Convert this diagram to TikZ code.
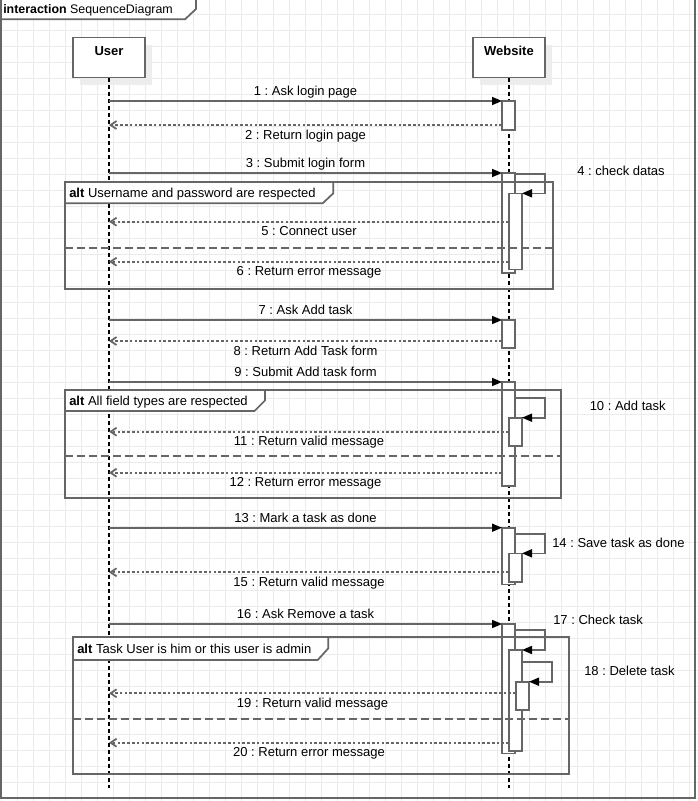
\documentclass[tikz,border=0pt]{standalone}
\usepackage{fontspec}
\setmainfont{Liberation Sans}
\usetikzlibrary{arrows.meta,fit,shadows}
\frenchspacing

\definecolor{edge}{HTML}{666666}
\definecolor{gridc}{HTML}{EBEBEB}
\definecolor{shadowc}{HTML}{EDEDED}

\begin{document}
\begin{tikzpicture}[x=0.75pt,y=-0.75pt,
  font=\fontsize{9.75pt}{11.5pt}\selectfont,
  gridline/.style={draw=gridc, line width=0.7pt},
  frameline/.style={draw=edge, line width=1.3pt},
  lifebox/.style={draw=edge, fill=white, line width=1.2pt, minimum width=54pt,
    minimum height=30pt, inner sep=0pt,
    general shadow={fill=shadowc, shadow xshift=5.25pt, shadow yshift=-5.25pt}},
  boxtitle/.style={anchor=base, inner sep=0pt,
    font=\fontsize{9.75pt}{11.5pt}\selectfont\bfseries},
  lifeline/.style={draw=black, line width=0.9pt, dash pattern=on 3pt off 2.25pt},
  actbar/.style={draw=edge, fill=white, line width=1.2pt, inner sep=0pt, outer sep=0pt},
  call/.style={draw=edge, line width=1.2pt,
    -{Triangle[length=7.5pt,width=6pt,color=black]}},
  ret/.style={draw=edge, line width=1.3pt, dash pattern=on 2pt off 1.6pt,
    -{Straight Barb[length=4.5pt,width=6pt,color=edge]}},
  calllbl/.style={anchor=base, inner sep=0pt, yshift=4pt},
  retlbl/.style={anchor=base, inner sep=0pt, yshift=-10.6pt},
  selflbl/.style={anchor=base west, inner sep=0pt},
  altframe/.style={draw=edge, line width=1.3pt, inner sep=0pt, outer sep=0pt},
  altlabel/.style={draw=edge, fill=white, line width=1.3pt},
  altsep/.style={draw=edge, line width=1.3pt, dash pattern=on 6pt off 3pt},
  alttext/.style={anchor=base west, inner sep=0pt},
]
\useasboundingbox (0,0) rectangle (698,801);
\clip (0,0) rectangle (698,801);

% background and grid
\fill[white] (0,0) rectangle (698,801);
\foreach \gx in {1.5,17.5,...,700} \draw[gridline] (\gx,0) -- (\gx,801);
\foreach \gy in {14,30,...,801} \draw[gridline] (0,\gy) -- (698,\gy);

% interaction frame
\draw[frameline] (1,-2) rectangle (695,798);
\draw[frameline, fill=white] (1,-2) -- (196,-2) -- (196,9) -- (185,19.3) -- (1,19.3) -- cycle;
\node[anchor=base west, inner sep=0pt, font=\fontsize{9.3pt}{11pt}\selectfont] (frametitle)
  at (3,13) {\textbf{interaction} SequenceDiagram};

% message levels
\foreach \n/\yy in {1/101,2/125,3/173,5/221.7,6/261.7,7/320,8/341,9/382,
  10/397.7,11/431.7,12/472.7,13/527.7,14/534,15/572.3,16/624,17/630,
  18/661.7,19/693.3,20/742.7,s1/247.7,s2/456,s3/719}
  \coordinate (y\n) at (0,\yy);

% lifelines
\node[lifebox] (user) at (109,57.5) {};
\node[lifebox] (web) at (509,57.5) {};
\node[boxtitle] (usertitle) at (109,55) {User};
\node[boxtitle] (webtitle) at (509,55) {Website};
\coordinate (userend) at (109,788);
\coordinate (webend) at (509,788);
\draw[lifeline] (user.south) -- (userend);
\draw[lifeline] (web.south) -- (webend);

% activation bars
\node[actbar, fit={(502,101)(515,130)}] (b1) {};
\node[actbar, fit={(502,173)(515,272.7)}] (b2) {};
\node[actbar, fit={(509,193.3)(522,269.3)}] (b2i) {};
\node[actbar, fit={(502,320)(515,348)}] (b3) {};
\node[actbar, fit={(502,382)(515,486)}] (b4) {};
\node[actbar, fit={(509,417.7)(522,446)}] (b4i) {};
\node[actbar, fit={(502,527.7)(515,584.3)}] (b5) {};
\node[actbar, fit={(509,553.3)(522,581.7)}] (b5i) {};
\node[actbar, fit={(502,624)(515,753.3)}] (b6) {};
\node[actbar, fit={(509,650)(522,750.7)}] (b6a) {};
\node[actbar, fit={(516,681.7)(529,710)}] (b6b) {};

% messages
\draw[call] (user |- y1) -- (b1.west |- y1) node[midway, calllbl] {1 : Ask login page};
\draw[ret] (b1.west |- y2) -- (user |- y2) node[midway, retlbl] {2 : Return login page};
\draw[call] (user |- y3) -- (b2.west |- y3) node[midway, calllbl] {3 : Submit login form};
\draw[call] ([yshift=-0.75pt]b2.north east) -- ++(30,0) |- (b2i.north east);
\node[selflbl] (l4) at (577,175.8) {4 : check datas};
\draw[ret] (b2i.west |- y5) -- (user |- y5) node[midway, retlbl] {5 : Connect user};
\draw[ret] (b2i.west |- y6) -- (user |- y6) node[midway, retlbl] {6 : Return error message};

\draw[call] (user |- y7) -- (b3.west |- y7) node[midway, calllbl] {7 : Ask Add task};
\draw[ret] (b3.west |- y8) -- (user |- y8) node[midway, retlbl] {8 : Return Add Task form};
\draw[call] (user |- y9) -- (b4.west |- y9) node[midway, calllbl] {9 : Submit Add task form};
\draw[call] (b4.east |- y10) -- ++(30,0) |- (b4i.north east);
\node[selflbl] (l10) at (589.5,410.6) {10 : Add task};
\draw[ret] (b4i.west |- y11) -- (user |- y11) node[midway, retlbl] {11 : Return valid message};
\draw[ret] (b4.west |- y12) -- (user |- y12) node[midway, retlbl] {12 : Return error message};

\draw[call] (user |- y13) -- (b5.west |- y13) node[midway, calllbl] {13 : Mark a task as done};
\draw[call] (b5.east |- y14) -- ++(30,0) |- (b5i.north east);
\node[selflbl] (l14) at (552,547.4) {14 : Save task as done};
\draw[ret] (b5i.west |- y15) -- (user |- y15) node[midway, retlbl] {15 : Return valid message};

\draw[call] (user |- y16) -- (b6.west |- y16) node[midway, calllbl] {16 : Ask Remove a task};
\draw[call] (b6.east |- y17) -- ++(30,0) |- (b6a.north east);
\node[selflbl] (l17) at (553,624) {17 : Check task};
\draw[call] (b6a.east |- y18) -- ++(30,0) |- (b6b.north east);
\node[selflbl] (l18) at (584,675.3) {18 : Delete task};
\draw[ret] (b6b.west |- y19) -- (user |- y19) node[midway, retlbl] {19 : Return valid message};
\draw[ret] (b6a.west |- y20) -- (user |- y20) node[midway, retlbl] {20 : Return error message};

% combined fragments
\node[altframe, fit={(65,182)(553,289)}] (alt1) {};
\draw[altsep] (alt1.west |- ys1) -- (alt1.east |- ys1);
\draw[altlabel] (alt1.north west) -- (333.3,182) -- (333.3,193.3) -- (322.7,203.3) -- (65,203.3) -- cycle;
\node[alttext] (alt1text) at (69,197.5) {\textbf{alt} Username and password are respected};

\node[altframe, fit={(65,390)(561,497.7)}] (alt2) {};
\draw[altsep] (alt2.west |- ys2) -- (alt2.east |- ys2);
\draw[altlabel] (alt2.north west) -- (265,390) -- (265,400.5) -- (254.5,411) -- (65,411) -- cycle;
\node[alttext] (alt2text) at (69,405.5) {\textbf{alt} All field types are respected};

\node[altframe, fit={(73,637)(569,774)}] (alt3) {};
\draw[altsep] (alt3.west |- ys3) -- (alt3.east |- ys3);
\draw[altlabel] (alt3.north west) -- (328.3,637) -- (328.3,648.3) -- (317.7,660) -- (73,660) -- cycle;
\node[alttext] (alt3text) at (77,653) {\textbf{alt} Task User is him or this user is admin};
\end{tikzpicture}
\end{document}
